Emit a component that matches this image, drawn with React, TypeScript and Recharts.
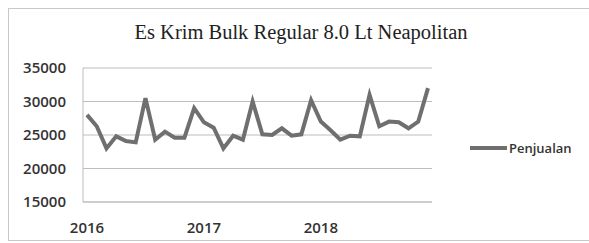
import React from 'react';
import { LineChart, Line, XAxis, YAxis, CartesianGrid } from 'recharts';

// Monthly sales, Jan 2016 - Dec 2018
const months = [
  '2016-01', '2016-02', '2016-03', '2016-04', '2016-05', '2016-06',
  '2016-07', '2016-08', '2016-09', '2016-10', '2016-11', '2016-12',
  '2017-01', '2017-02', '2017-03', '2017-04', '2017-05', '2017-06',
  '2017-07', '2017-08', '2017-09', '2017-10', '2017-11', '2017-12',
  '2018-01', '2018-02', '2018-03', '2018-04', '2018-05', '2018-06',
  '2018-07', '2018-08', '2018-09', '2018-10', '2018-11', '2018-12'
];

const penjualan = [
  28000, 26300, 23000, 24800, 24100, 23900, 30500, 24300, 25500, 24600, 24600, 29000,
  26900, 26100, 23000, 24900, 24300, 30000, 25100, 25000, 26000, 24900, 25100, 30200,
  27000, 25700, 24300, 24900, 24800, 31000, 26300, 27000, 26900, 26000, 27000, 32000
];

const yearTicks = ['2016-01', '2017-01', '2018-01'];
const yTicks = [15000, 20000, 25000, 30000, 35000];

const data = months.map((m, i) => ({ month: m, Penjualan: penjualan[i] }));

const LINE_COLOR = '#6f6f6f';
const GRID_COLOR = '#bdbdbd';
const AXIS_FONT = '"Open Sans", "Liberation Sans", sans-serif';

export default function App() {
  return (
    <div style={{ position: 'absolute', left: 0, top: 0, width: 589, height: 243, background: '#fff', overflow: 'hidden' }}>
      <div
        style={{
          position: 'absolute',
          left: 8,
          top: 8,
          width: 600,
          height: 231,
          border: '1px solid #c8c8c8'
        }}
      />
      <div
        style={{
          position: 'absolute',
          left: 0,
          width: 602,
          top: 21,
          textAlign: 'center',
          fontFamily: '"Liberation Serif", "Times New Roman", serif',
          fontSize: 20.5,
          color: '#222'
        }}
      >
        Es Krim Bulk Regular 8.0 Lt Neapolitan
      </div>
      <div style={{ position: 'absolute', left: 0, top: 0 }}>
        <LineChart
          width={589}
          height={243}
          data={data}
          margin={{ top: 68, right: 157, bottom: 0, left: 23 }}
        >
          <CartesianGrid vertical={false} stroke={GRID_COLOR} strokeWidth={1} />
          <XAxis
            dataKey="month"
            ticks={yearTicks}
            interval={0}
            tickFormatter={(v: string) => v.slice(0, 4)}
            padding={{ left: 4, right: 4 }}
            height={41}
            tickLine={false}
            tickSize={0}
            tickMargin={20}
            axisLine={{ stroke: GRID_COLOR }}
            tick={{ fontFamily: AXIS_FONT, fontSize: 15, fontWeight: 600, fill: '#333' }}
          />
          <YAxis
            domain={[15000, 35000]}
            ticks={yTicks}
            width={60}
            tickLine={false}
            tickSize={0}
            tickMargin={17}
            axisLine={{ stroke: GRID_COLOR }}
            tick={{ fontFamily: AXIS_FONT, fontSize: 15, fontWeight: 600, fill: '#333' }}
          />
          <Line
            type="linear"
            dataKey="Penjualan"
            stroke={LINE_COLOR}
            strokeWidth={4}
            dot={false}
            isAnimationActive={false}
          />
        </LineChart>
      </div>
      <div
        style={{
          position: 'absolute',
          left: 470,
          top: 139,
          display: 'flex',
          alignItems: 'center',
          fontFamily: AXIS_FONT,
          fontSize: 13,
          fontWeight: 600,
          color: '#333'
        }}
      >
        <span style={{ display: 'inline-block', width: 37, height: 4, background: LINE_COLOR, marginRight: 2 }} />
        <span>Penjualan</span>
      </div>
    </div>
  );
}
